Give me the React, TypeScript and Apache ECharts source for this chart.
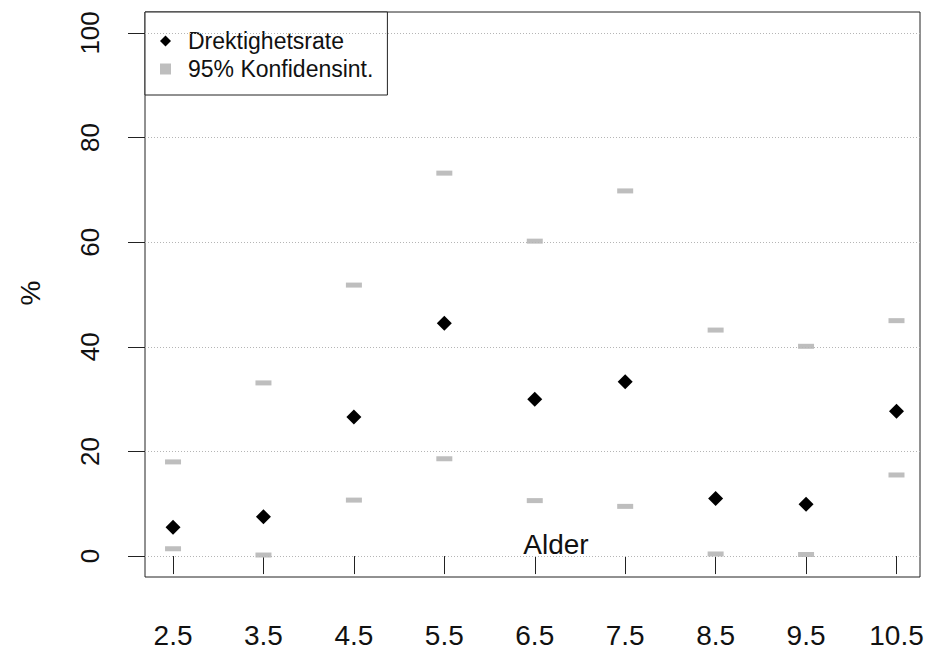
import React, { useEffect, useRef } from "react";
import * as echarts from "echarts";

const ages = [2.5, 3.5, 4.5, 5.5, 6.5, 7.5, 8.5, 9.5, 10.5];
const rate = [5.5, 7.5, 26.6, 44.5, 30.0, 33.3, 11.0, 9.9, 27.7];
const upperCI = [18.0, 33.1, 51.8, 73.2, 60.2, 69.8, 43.2, 40.1, 45.0];
const lowerCI = [1.4, 0.2, 10.7, 18.6, 10.6, 9.5, 0.4, 0.3, 15.5];
const yTicks = [0, 20, 40, 60, 80, 100];
const xTicks = [2.5, 3.5, 4.5, 5.5, 6.5, 7.5, 8.5, 9.5, 10.5];

const FONT = "'Liberation Sans', Arial, Helvetica, sans-serif";

export default function App() {
  const ref = useRef<HTMLDivElement>(null);
  useEffect(() => {
    if (!ref.current) return;
    const chart = echarts.init(ref.current, null, { renderer: "svg" });
    const zip = (v: number[]) => ages.map((a, i) => [a, v[i]]);
    chart.setOption({
      animation: false,
      backgroundColor: "#ffffff",
      textStyle: { fontFamily: FONT },
      grid: {
        left: 145,
        top: 12,
        width: 775,
        height: 565,
        show: true,
        borderColor: "#222",
        borderWidth: 1,
        backgroundColor: "transparent",
        containLabel: false,
      },
      legend: {
        orient: "vertical",
        left: 145,
        top: 12,
        padding: [17, 14, 14, 15],
        itemWidth: 11,
        itemHeight: 11,
        itemGap: 4,
        backgroundColor: "#ffffff",
        borderColor: "#222",
        borderWidth: 1,
        borderRadius: 0,
        selectedMode: false,
        textStyle: {
          fontFamily: FONT,
          fontSize: 23,
          color: "#111",
          lineHeight: 24,
          padding: [0, 0, 0, 12],
        },
        data: [
          { name: "Drektighetsrate", icon: "diamond", itemStyle: { color: "#000", opacity: 1 } },
          { name: "95% Konfidensint.", icon: "rect", itemStyle: { color: "#bebebe", opacity: 1 } },
        ],
      },
      xAxis: {
        type: "value",
        min: 2.19,
        max: 10.76,
        axisLine: { show: false },
        splitLine: { show: false },
        axisTick: {
          show: true,
          length: 18,
          customValues: xTicks,
          lineStyle: { color: "#222", width: 1 },
        },
        axisLabel: {
          customValues: xTicks,
          fontSize: 28,
          color: "#111",
          fontFamily: FONT,
          margin: 44,
          formatter: (v: number) => String(v),
        },
      },
      yAxis: {
        type: "value",
        min: -4,
        max: 104,
        axisLine: { show: false },
        splitLine: { show: false },
        axisTick: {
          show: true,
          length: 17,
          customValues: yTicks,
          lineStyle: { color: "#222", width: 1 },
        },
        axisLabel: {
          customValues: yTicks,
          fontSize: 26,
          color: "#111",
          fontFamily: FONT,
          rotate: 90,
          margin: 42,
          formatter: (v: number) => String(v),
        },
      },
      graphic: [
        {
          type: "text",
          x: 30,
          y: 293,
          rotation: Math.PI / 2,
          style: {
            text: "%",
            fontSize: 28,
            fontFamily: FONT,
            fill: "#111",
            align: "center",
            verticalAlign: "middle",
          },
        },
        {
          type: "text",
          x: 556,
          y: 544,
          style: {
            text: "Alder",
            fontSize: 28,
            fontFamily: FONT,
            fill: "#111",
            align: "center",
            verticalAlign: "middle",
          },
        },
      ],
      series: [
        {
          name: "95% Konfidensint.",
          type: "scatter",
          data: zip(upperCI),
          symbol: "rect",
          symbolSize: [16, 5],
          itemStyle: { color: "#bebebe", opacity: 1 },
          z: 3,
          markLine: {
            silent: true,
            symbol: ["none", "none"],
            label: { show: false },
            lineStyle: { type: [1, 2], color: "#b5b5b5", width: 1 },
            data: yTicks.map((v) => ({ yAxis: v })),
          },
        },
        {
          name: "95% Konfidensint.",
          type: "scatter",
          data: zip(lowerCI),
          symbol: "rect",
          symbolSize: [16, 5],
          itemStyle: { color: "#bebebe", opacity: 1 },
          z: 3,
        },
        {
          name: "Drektighetsrate",
          type: "scatter",
          data: zip(rate),
          symbol: "diamond",
          symbolSize: 15,
          itemStyle: { color: "#000", opacity: 1 },
          z: 4,
        },
      ],
    });
    return () => chart.dispose();
  }, []);
  return (
    <div
      ref={ref}
      style={{ position: "absolute", left: 0, top: 0, width: 929, height: 653 }}
    />
  );
}
